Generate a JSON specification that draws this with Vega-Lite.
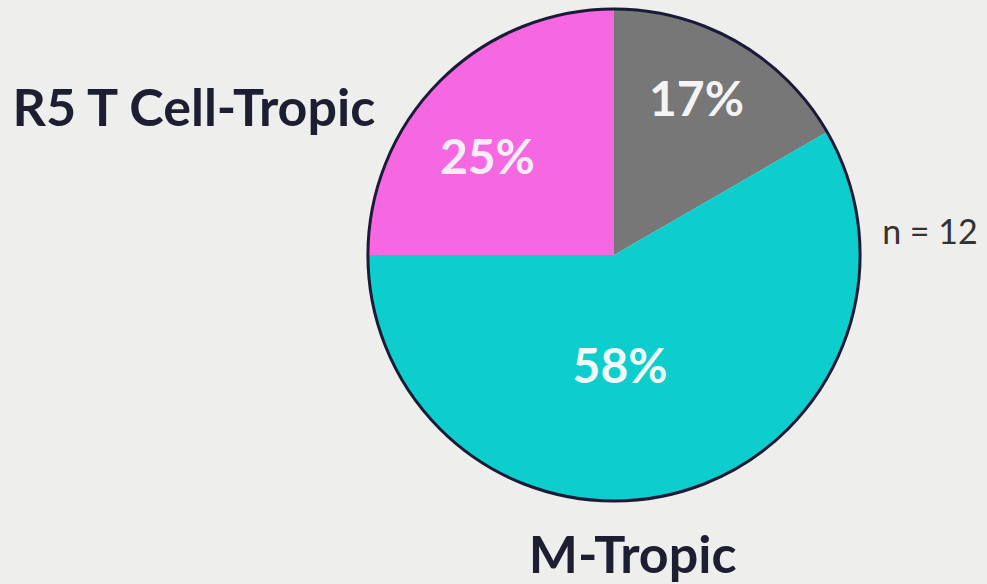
{
  "$schema": "https://vega.github.io/schema/vega-lite/v6.json",
  "width": 490,
  "height": 490,
  "autosize": {"type": "none"},
  "padding": {"left": 369, "top": 10, "right": 128, "bottom": 84},
  "background": "#eeeeec",
  "view": {"stroke": null},
  "data": {
    "values": [
      {"category": "Other", "count": 2, "pct": "17%", "slot": 1},
      {"category": "M-Tropic", "count": 7, "pct": "58%", "slot": 2},
      {"category": "R5 T Cell-Tropic", "count": 3, "pct": "25%", "slot": 3}
    ]
  },
  "layer": [
    {
      "mark": {"type": "arc", "outerRadius": 246, "strokeWidth": 0},
      "encoding": {
        "theta": {"field": "count", "type": "quantitative", "stack": true},
        "order": {"field": "slot", "type": "quantitative"},
        "color": {
          "field": "category",
          "type": "nominal",
          "scale": {"domain": ["Other", "M-Tropic", "R5 T Cell-Tropic"], "range": ["#777777", "#0dcdcd", "#f668e2"]},
          "legend": null
        }
      }
    },
    {
      "transform": [{"aggregate": [{"op": "sum", "field": "count", "as": "total"}]}],
      "mark": {"type": "arc", "outerRadius": 246, "fill": "transparent", "stroke": "#1b1b38", "strokeWidth": 3},
      "encoding": {
        "theta": {"field": "total", "type": "quantitative", "stack": true}
      }
    },
    {
      "mark": {"type": "text", "radius": 173, "dx": -4, "dy": -3, "font": "Lato", "fontWeight": "bold", "fontSize": 48, "fill": "#f4f4f4", "align": "center", "baseline": "middle"},
      "encoding": {
        "theta": {"field": "count", "type": "quantitative", "stack": true},
        "order": {"field": "slot", "type": "quantitative"},
        "detail": {"field": "category"},
        "text": {"field": "pct", "condition": {"test": "datum.category !== 'Other'", "value": ""}}
      }
    },
    {
      "mark": {"type": "text", "radius": 155, "dx": -17, "dy": 15, "font": "Lato", "fontWeight": "bold", "fontSize": 48, "fill": "#f6eef6", "align": "center", "baseline": "middle"},
      "encoding": {
        "theta": {"field": "count", "type": "quantitative", "stack": true},
        "order": {"field": "slot", "type": "quantitative"},
        "detail": {"field": "category"},
        "text": {"field": "pct", "condition": {"test": "datum.category !== 'R5 T Cell-Tropic'", "value": ""}}
      }
    },
    {
      "mark": {"type": "text", "radius": 120, "dx": -25, "dy": -2, "font": "Lato", "fontWeight": "bold", "fontSize": 48, "fill": "#f0fafa", "align": "center", "baseline": "middle"},
      "encoding": {
        "theta": {"field": "count", "type": "quantitative", "stack": true},
        "order": {"field": "slot", "type": "quantitative"},
        "detail": {"field": "category"},
        "text": {"field": "pct", "condition": {"test": "datum.category !== 'M-Tropic'", "value": ""}}
      }
    },
    {
      "mark": {"type": "text", "radius": 300, "dx": -208, "dy": 67, "font": "Lato", "fontWeight": "bold", "fontSize": 52, "fill": "#1e1e33", "align": "center", "baseline": "middle"},
      "encoding": {
        "theta": {"field": "count", "type": "quantitative", "stack": true},
        "order": {"field": "slot", "type": "quantitative"},
        "detail": {"field": "category"},
        "text": {"field": "category", "condition": {"test": "datum.category !== 'R5 T Cell-Tropic'", "value": ""}}
      }
    },
    {
      "mark": {"type": "text", "radius": 300, "dx": -59, "dy": 12, "font": "Lato", "fontWeight": "bold", "fontSize": 52, "fill": "#1e1e33", "align": "center", "baseline": "middle"},
      "encoding": {
        "theta": {"field": "count", "type": "quantitative", "stack": true},
        "order": {"field": "slot", "type": "quantitative"},
        "detail": {"field": "category"},
        "text": {"field": "category", "condition": {"test": "datum.category !== 'M-Tropic'", "value": ""}}
      }
    },
    {
      "transform": [
        {"aggregate": [{"op": "sum", "field": "count", "as": "total"}]},
        {"calculate": "'n = ' + datum.total", "as": "nlabel"}
      ],
      "mark": {"type": "text", "theta": 1.4925, "radius": 269, "font": "Lato", "fontSize": 34, "fill": "#333333", "align": "left", "baseline": "middle"},
      "encoding": {
        "text": {"field": "nlabel"}
      }
    }
  ]
}
